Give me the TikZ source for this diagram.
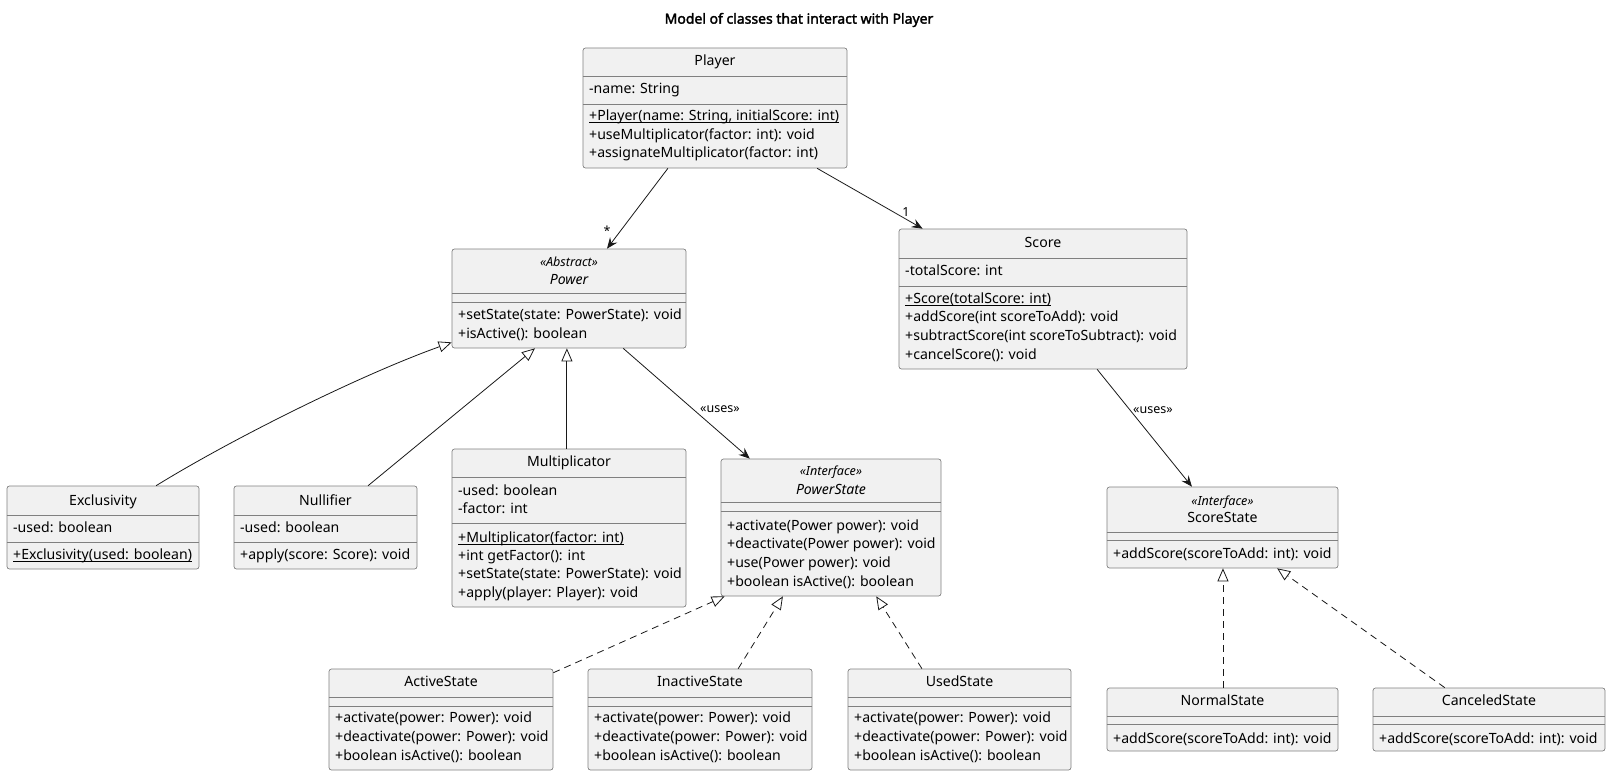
\documentclass[tikz,border=0pt]{standalone}
\usepackage{fontspec}
\setmainfont{Noto Sans}
\newfontfamily\titlefont{Noto Sans}[FakeBold=2.2]
\usetikzlibrary{arrows.meta,calc,fit}

\definecolor{boxfill}{HTML}{F1F1F1}
\definecolor{boxline}{HTML}{181818}

\tikzset{
  x=1pt, y=-1pt,
  umlbox/.style={draw=boxline!55, fill=boxfill, rounded corners=2.5pt, line width=0.7pt, inner sep=0pt},
  sepline/.style={draw=boxline!55, line width=0.7pt},
  mtext/.style={anchor=west, inner sep=0pt, text height=10.2pt, text depth=3.5pt,
                font=\fontsize{14.1}{17}\selectfont},
  ctext/.style={mtext, anchor=center},
  stereo/.style={anchor=center, inner sep=0pt, text height=9pt, text depth=3pt,
                 font=\fontsize{12.6}{15}\selectfont\itshape},
  lbl/.style={inner sep=0pt, font=\fontsize{12.5}{15}\selectfont},
  assoc/.style={draw=boxline, line width=0.8pt, -{Stealth[length=11pt,width=9pt,inset=4pt]}},
  inherit/.style={draw=boxline, line width=0.8pt, -{Triangle[length=13pt,width=11pt,fill=white]}},
  realize/.style={inherit, dash pattern=on 7pt off 5pt},
}

% static members: text with a rule just under the baseline
\newcommand\staticm[1]{\setbox0\hbox{#1}\rlap{\copy0}\rule[-2pt]{\wd0}{0.75pt}}
% a class box spanning two corners
\newcommand\classbox[5]{\node[umlbox, fit={(#2,#3) (#4,#5)}] (#1) {};}
% a horizontal compartment line across a class box
\newcommand\compsep[2]{\draw[sepline] (#1.west |- 0,#2) -- (#1.east |- 0,#2);}
% a left-aligned member line
\newcommand\member[4]{\node[mtext] (#1) at (#2,#3) {#4};}
% a centred class name
\newcommand\cname[4]{\node[ctext] (#1) at (#2,#3) {#4};}

\begin{document}
\begin{tikzpicture}
\useasboundingbox (0,0) rectangle (1611,776);

\node[font=\titlefont\fontsize{14}{17}\selectfont, inner sep=0pt] (title) at (799,20)
  {Model of classes that interact with Player};

% ---- Player
\classbox{player}{583}{48}{847}{168}
\compsep{player}{76}\compsep{player}{104}
\cname{player-n}{715}{62}{Player}
\member{player-a1}{589}{90}{-name: String}
\member{player-m1}{589}{117}{\staticm{+Player(name: String, initialScore: int)}}
\member{player-m2}{589}{136}{+useMultiplicator(factor: int): void}
\member{player-m3}{589}{154}{+assignateMultiplicator(factor: int)}

% ---- Power
\classbox{power}{452}{249}{686}{348}
\compsep{power}{293}\compsep{power}{302}
\node[stereo] (power-s) at (569,263) {«Abstract»};
\cname{power-n}{569}{281}{\itshape Power}
\member{power-m1}{458}{316}{+setState(state: PowerState): void}
\member{power-m2}{458}{335}{+isActive(): boolean}

% ---- Exclusivity
\classbox{excl}{7}{486}{199}{569}
\compsep{excl}{515}\compsep{excl}{542}
\cname{excl-n}{103}{502}{Exclusivity}
\member{excl-a1}{13}{529}{-used: boolean}
\member{excl-m1}{13}{556}{\staticm{+Exclusivity(used: boolean)}}

% ---- Nullifier
\classbox{null}{234}{486}{417}{569}
\compsep{null}{515}\compsep{null}{542}
\cname{null-n}{325.5}{502}{Nullifier}
\member{null-a1}{240}{529}{-used: boolean}
\member{null-m1}{240}{556}{+apply(score: Score): void}

% ---- Multiplicator
\classbox{mult}{452}{449}{686}{607}
\compsep{mult}{477}\compsep{mult}{523}
\cname{mult-n}{569}{463}{Multiplicator}
\member{mult-a1}{458}{492}{-used: boolean}
\member{mult-a2}{458}{510}{-factor: int}
\member{mult-m1}{458}{539}{\staticm{+Multiplicator(factor: int)}}
\member{mult-m2}{458}{557}{+int getFactor(): int}
\member{mult-m3}{458}{575}{+setState(state: PowerState): void}
\member{mult-m4}{458}{594}{+apply(player: Player): void}

% ---- PowerState
\classbox{pstate}{721}{459}{941}{596}
\compsep{pstate}{502}\compsep{pstate}{511}
\node[stereo] (pstate-s) at (831,472) {«Interface»};
\cname{pstate-n}{831}{491}{\itshape PowerState}
\member{pstate-m1}{727}{527}{+activate(Power power): void}
\member{pstate-m2}{727}{545}{+deactivate(Power power): void}
\member{pstate-m3}{727}{564}{+use(Power power): void}
\member{pstate-m4}{727}{583}{+boolean isActive(): boolean}

% ---- ActiveState
\classbox{active}{329}{669}{553}{770}
\compsep{active}{697}\compsep{active}{706}
\cname{active-n}{441}{683}{ActiveState}
\member{active-m1}{335}{719}{+activate(power: Power): void}
\member{active-m2}{335}{738}{+deactivate(power: Power): void}
\member{active-m3}{335}{757}{+boolean isActive(): boolean}

% ---- InactiveState
\classbox{inactive}{588}{669}{812}{770}
\compsep{inactive}{697}\compsep{inactive}{706}
\cname{inactive-n}{700}{683}{InactiveState}
\member{inactive-m1}{594}{719}{+activate(power: Power): void}
\member{inactive-m2}{594}{738}{+deactivate(power: Power): void}
\member{inactive-m3}{594}{757}{+boolean isActive(): boolean}

% ---- UsedState
\classbox{used}{848}{669}{1071}{770}
\compsep{used}{697}\compsep{used}{706}
\cname{used-n}{959.5}{683}{UsedState}
\member{used-m1}{854}{719}{+activate(power: Power): void}
\member{used-m2}{854}{738}{+deactivate(power: Power): void}
\member{used-m3}{854}{757}{+boolean isActive(): boolean}

% ---- Score
\classbox{score}{899}{229}{1187}{369}
\compsep{score}{258}\compsep{score}{286}
\cname{score-n}{1043}{244}{Score}
\member{score-a1}{905}{272}{-totalScore: int}
\member{score-m1}{905}{300}{\staticm{+Score(totalScore: int)}}
\member{score-m2}{905}{318}{+addScore(int scoreToAdd): void}
\member{score-m3}{905}{337}{+subtractScore(int scoreToSubtract): void}
\member{score-m4}{905}{356}{+cancelScore(): void}

% ---- ScoreState
\classbox{sstate}{1107}{487}{1338}{568}
\compsep{sstate}{532}\compsep{sstate}{540}
\node[stereo] (sstate-s) at (1222.5,502) {«Interface»};
\cname{sstate-n}{1222.5}{519}{ScoreState}
\member{sstate-m1}{1113}{555}{+addScore(scoreToAdd: int): void}

% ---- NormalState
\classbox{normal}{1107}{688}{1338}{751}
\compsep{normal}{716}\compsep{normal}{724}
\cname{normal-n}{1222.5}{702}{NormalState}
\member{normal-m1}{1113}{740}{+addScore(scoreToAdd: int): void}

% ---- CanceledState
\classbox{canceled}{1373}{688}{1605}{751}
\compsep{canceled}{716}\compsep{canceled}{724}
\cname{canceled-n}{1489}{702}{CanceledState}
\member{canceled-m1}{1379}{740}{+addScore(scoreToAdd: int): void}

% ---- associations
\draw[assoc] ($(player.south west)!0.322!(player.south east)$) -- ($(power.north west)!0.662!(power.north east)$);
\node[lbl] (mul-star) at (607,231) {*};
\draw[assoc] ($(player.south west)!0.886!(player.south east)$) -- ($(score.north west)!0.083!(score.north east)$);
\node[lbl] (mul-one) at (906,212) {1};
\draw[assoc] ($(power.south west)!0.731!(power.south east)$) -- ($(pstate.north west)!0.132!(pstate.north east)$);
\node[lbl, anchor=west] (uses-p) at (700,409) {«uses»};
\draw[assoc] ($(score.south west)!0.6875!(score.south east)$) -- ($(sstate.north west)!0.368!(sstate.north east)$);
\node[lbl, anchor=west] (uses-s) at (1133,410) {«uses»};

% ---- generalisations of Power
\draw[inherit] ($(excl.north west)!0.776!(excl.north east)$)
  .. controls (230,440) and (360,375) .. ($(power.north west)!0.94!(power.south west)$);
\draw[inherit] ($(null.north west)!0.732!(null.north east)$) -- ($(power.south west)!0.355!(power.south east)$);
\draw[inherit] ($(mult.north west)!0.491!(mult.north east)$) -- ($(power.south west)!0.491!(power.south east)$);

% ---- realisations of PowerState
\draw[realize] ($(active.north east)!0.04!(active.south east)$) -- ($(pstate.south west)!0.018!(pstate.south east)$);
\draw[realize] ($(inactive.north west)!0.67!(inactive.north east)$) -- ($(pstate.south west)!0.282!(pstate.south east)$);
\draw[realize] ($(used.north west)!0.332!(used.north east)$) -- ($(pstate.south west)!0.705!(pstate.south east)$);

% ---- realisations of ScoreState
\draw[realize] ($(normal.north west)!0.502!(normal.north east)$) -- ($(sstate.south west)!0.502!(sstate.south east)$);
\draw[realize] ($(canceled.north west)!0.31!(canceled.north east)$) -- ($(sstate.south west)!0.736!(sstate.south east)$);
\end{tikzpicture}
\end{document}
